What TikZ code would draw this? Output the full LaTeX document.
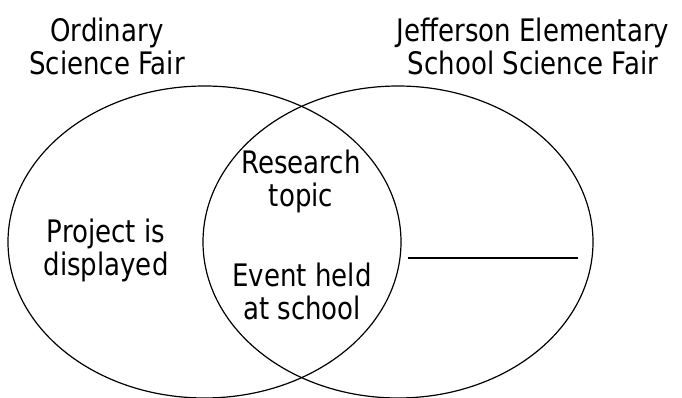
\documentclass[tikz,border=0pt]{standalone}
\usepackage{fontspec}
\setmainfont{DejaVu Sans}[FakeStretch=0.84]
\usetikzlibrary{shapes.geometric}
\begin{document}
\begin{tikzpicture}[x=1pt,y=-1pt,
  setbox/.style={draw=black, line width=1.2pt, ellipse, inner sep=0pt},
  lbl/.style={align=center, inner sep=0pt, font=\fontsize{31}{33}\selectfont},
  blank/.style={draw=black, line width=1.4pt}]
\useasboundingbox (0,0) rectangle (682,398);
\node[setbox, minimum width=393pt, minimum height=312pt] (L) at (204.5,242) {};
\node[setbox, minimum width=390pt, minimum height=312pt] (R) at (398,242) {};
\node[lbl] (ordinary) at (107,46) {Ordinary\\Science Fair};
\node[lbl] (jefferson) at (533,46) {Jefferson Elementary\\School Science Fair};
\node[lbl] (research) at (301,181) {Research\\topic};
\node[lbl] (event) at (302,291) {Event held\\at school};
\node[lbl] (project) at (106,250) {Project is\\displayed};
\coordinate (blankA) at (408,258);
\coordinate (blankB) at (578,258);
\draw[blank] (blankA) -- (blankB);
\end{tikzpicture}
\end{document}
